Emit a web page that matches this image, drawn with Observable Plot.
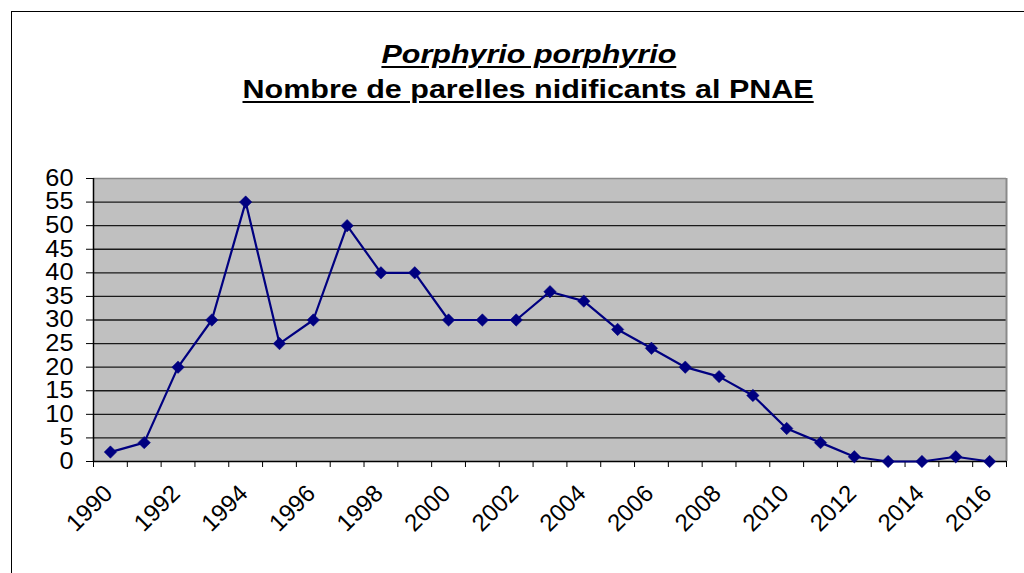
<!DOCTYPE html>
<html>
<head>
<meta charset="utf-8">
<script src="https://cdn.jsdelivr.net/npm/d3@7"></script>
<script src="https://cdn.jsdelivr.net/npm/@observablehq/plot@0.6"></script>
<style>
  html, body { margin: 0; padding: 0; background: #fff; overflow: hidden; }
  #wrap { position: relative; width: 1024px; height: 573px; overflow: hidden; font-family: "Liberation Sans", Arial, sans-serif; }
  #border { position: absolute; left: 11px; top: 11px; width: 1040px; height: 600px; border: 1.5px solid #000; box-sizing: border-box; pointer-events: none; }
  #title { position: relative; height: 160px; width: 1057px; font-weight: bold; color: #000; }
  .tl { position: absolute; left: 0; width: 1057px; text-align: center; font-size: 25px; line-height: 28px; white-space: nowrap; }
  .tl span { display: inline-block; transform: scaleX(1.22); transform-origin: center; text-decoration: underline; text-decoration-thickness: 2px; text-underline-offset: 3px; }
  #t1 { top: 40px; font-style: italic; }
  #t2 { top: 75px; }
  #chart svg { display: block; }
</style>
</head>
<body>
<div id="wrap">
  <div id="title"><div class="tl" id="t1"><span>Porphyrio porphyrio</span></div><div class="tl" id="t2"><span>Nombre de parelles nidificants al PNAE</span></div></div>
  <div id="chart"></div>
  <div id="border"></div>
</div>
<script>
const years = [1990,1991,1992,1993,1994,1995,1996,1997,1998,1999,2000,2001,2002,2003,2004,2005,2006,2007,2008,2009,2010,2011,2012,2013,2014,2015,2016];
const pairs = [2,4,20,30,55,25,30,50,40,40,30,30,30,36,34,28,24,20,18,14,7,4,1,0,0,1,0];
const yTicks = [0,5,10,15,20,25,30,35,40,45,50,55,60];
const xLabels = [1990,1992,1994,1996,1998,2000,2002,2004,2006,2008,2010,2012,2014,2016];

const data = years.map((y, i) => ({year: y, value: pairs[i]}));
const boundaries = [...years.map(y => y - 0.5), years[years.length - 1] + 0.5];
const xMin = boundaries[0], xMax = boundaries[boundaries.length - 1];
const yMax = yTicks[yTicks.length - 1];

const chart = Plot.plot({
  width: 1024,
  height: 413,
  marginTop: 18,
  marginBottom: 112,
  marginLeft: 93,
  marginRight: 18,
  style: {fontFamily: "'Liberation Sans', Arial, sans-serif", color: "#000", background: "transparent"},
  x: {domain: [xMin, xMax], axis: null},
  y: {domain: [0, yMax], axis: null},
  marks: [
    Plot.frame({fill: "#c0c0c0", stroke: null}),
    Plot.ruleY(yTicks.filter(t => t > 0 && t < yMax), {stroke: "#1a1a1a", strokeWidth: 1.4}),
    Plot.ruleY([yMax], {stroke: "#8a8a8a", strokeWidth: 1.5}),
    Plot.ruleX([xMax], {stroke: "#8a8a8a", strokeWidth: 2}),
    Plot.ruleX([xMin], {stroke: "#000", strokeWidth: 1.5}),
    Plot.ruleY([0], {stroke: "#000", strokeWidth: 1.5}),
    Plot.axisY({ticks: yTicks, tickSize: 7, tickPadding: 13, fontSize: 23, stroke: "#000", label: null, tickFormat: d => String(d), className: "yax"}),
    Plot.axisX({ticks: boundaries, tickSize: 6, tickFormat: () => "", stroke: "#000", label: null}),
    Plot.text(xLabels, {x: d => d, y: () => 0, text: d => String(d), rotate: -45, textAnchor: "end", dx: -2, dy: 28, fontSize: 24, fill: "#000"}),
    Plot.line(data, {x: "year", y: "value", stroke: "#000080", strokeWidth: 2.2}),
    Plot.dot(data, {x: "year", y: "value", symbol: "diamond2", r: 5.6, fill: "#000080", stroke: "#000080", strokeWidth: 0.5})
  ]
});
document.getElementById("chart").appendChild(chart);
// widen y-axis labels slightly to match the reference's stretched glyphs
chart.querySelectorAll(".yax text").forEach(t => {
  const len = t.getComputedTextLength();
  if (len > 0) {
    t.setAttribute("textLength", (len * 1.1).toFixed(1));
    t.setAttribute("lengthAdjust", "spacingAndGlyphs");
  }
});
</script>
</body>
</html>
